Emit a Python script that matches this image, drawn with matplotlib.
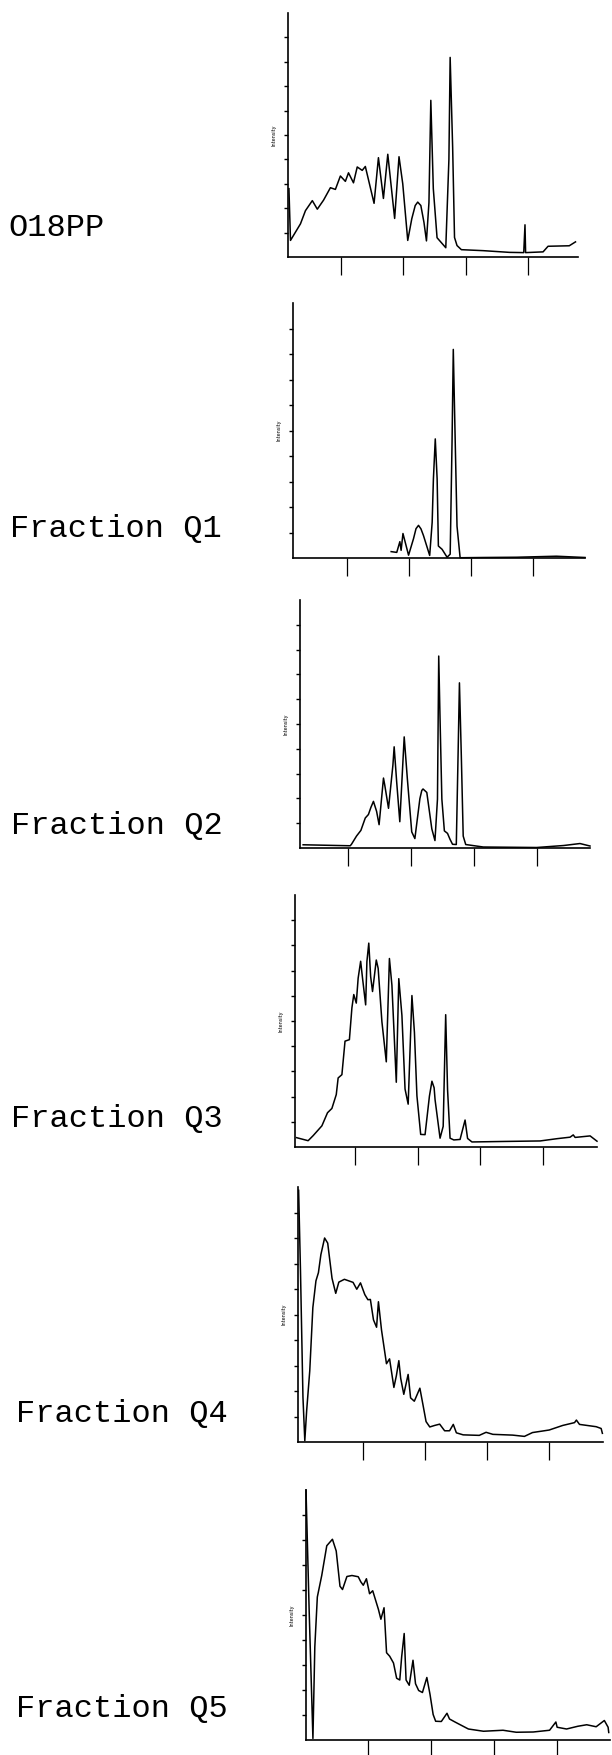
"""
Chromatogram overview: O18PP starting material and fractions Q1 to Q5.
"""

import matplotlib
matplotlib.use("Agg")
import matplotlib.pyplot as plt

FIG_W, FIG_H = 612, 1755

sample_names = ["O18PP", "Fraction Q1", "Fraction Q2",
                "Fraction Q3", "Fraction Q4", "Fraction Q5"]

# retention time (min) and detector signal (% of full scale)
o18pp_time = [6.65, 6.9, 8.5, 9.3, 10.4, 11.2, 12.2, 13.3, 14.1, 14.9, 15.7, 16.2,
              17.0, 17.6, 18.4, 18.9, 20.3, 21.0, 21.8, 22.5, 23.6, 24.3, 24.9,
              25.7, 26.35, 26.9, 27.3, 27.8, 28.3, 28.7, 29.1, 29.4, 29.8, 30.4,
              31.8, 32.3, 32.5, 32.9, 33.2, 33.6, 34.3, 37.8, 42.0, 44.3, 44.5,
              44.6, 47.4, 48.2, 51.6, 52.6]
o18pp_signal = [28.0, 6.8, 13.6, 19.0, 23.1, 19.6, 23.3, 28.4, 27.7, 33.2, 31.0, 34.5,
                30.4, 36.9, 35.5, 37.1, 22.0, 40.7, 24.0, 42.1, 15.8, 41.1, 30.0,
                6.8, 15.7, 21.1, 22.5, 21.1, 14.2, 6.6, 22.3, 64.2, 28.0, 7.9,
                3.8, 40.0, 81.8, 45.0, 8.0, 4.7, 3.0, 2.6, 1.9, 1.8, 13.2,
                1.8, 2.1, 4.4, 4.6, 6.2]

q1_time = [22.1, 23.0, 23.5, 23.7, 24.0, 24.9, 25.7, 26.1, 26.5, 26.9, 27.3, 28.3,
           28.7, 28.9, 29.2, 29.5, 29.7, 30.3, 31.1, 31.6, 31.9, 32.1, 32.4, 32.7,
           33.2, 37.0, 42.3, 48.7, 53.3]
q1_signal = [2.5, 2.2, 6.4, 3.0, 9.6, 1.1, 7.6, 11.5, 12.8, 11.4, 8.8, 1.0,
             14.0, 31.0, 46.7, 31.0, 4.7, 3.4, 0.3, 1.5, 45.5, 81.8, 46.8, 12.5,
             0.1, 0.2, 0.3, 0.7, 0.2]

q2_time = [7.8, 15.3, 15.5, 16.3, 17.0, 17.7, 18.2, 18.6, 19.0, 19.5, 19.9, 20.6,
           20.8, 21.4, 22.1, 22.3, 22.7, 23.2, 23.9, 24.4, 25.1, 25.6, 26.4, 26.7,
           26.9, 27.5, 28.3, 28.8, 29.2, 29.4, 29.6, 29.9, 30.3, 30.8, 31.2, 31.6,
           32.2, 32.5, 32.7, 33.0, 33.3, 33.7, 36.5, 45.0, 49.3, 51.9, 53.5]
q2_signal = [1.3, 0.9, 1.5, 4.8, 7.1, 12.1, 13.5, 16.4, 18.8, 14.8, 9.4, 28.2,
             25.4, 16.0, 33.4, 40.8, 26.7, 10.6, 44.8, 28.0, 6.5, 3.8, 19.9, 23.2,
             23.8, 22.4, 7.7, 3.0, 19.7, 77.4, 53.3, 19.7, 6.9, 5.9, 3.5, 1.5,
             1.4, 39.8, 66.6, 37.1, 4.8, 1.4, 0.4, 0.2, 1.0, 1.8, 0.8]

q3_time = [5.66, 7.5, 8.3, 9.7, 10.6, 11.3, 12.0, 12.3, 12.9, 13.4, 14.1, 14.5,
           14.8, 15.2, 15.5, 15.9, 16.2, 16.7, 16.9, 17.2, 17.5, 17.8, 18.4, 18.7,
           19.3, 20.0, 20.5, 20.9, 21.6, 22.0, 22.5, 23.0, 23.5, 24.1, 24.5, 24.9,
           25.5, 26.2, 26.9, 27.3, 27.65, 27.8, 28.6, 29.1, 29.5, 29.8, 30.2, 30.8,
           31.8, 32.6, 33.0, 33.7, 38.8, 44.6, 47.3, 49.4, 49.9, 50.2, 52.6, 53.7]
q3_signal = [3.7, 2.5, 4.5, 8.4, 13.6, 15.3, 20.8, 27.4, 28.7, 42.0, 42.6, 55.2,
             60.5, 57.1, 67.0, 73.7, 67.0, 56.4, 73.6, 80.9, 67.6, 61.7, 74.2, 70.9,
             49.7, 33.8, 74.8, 64.2, 25.7, 66.8, 52.2, 23.0, 17.0, 60.1, 45.5, 20.3,
             5.0, 4.9, 20.2, 26.1, 23.5, 18.8, 3.5, 8.2, 52.5, 22.7, 3.5, 2.8,
             3.0, 10.7, 3.4, 2.0, 2.2, 2.4, 3.3, 3.9, 4.8, 3.8, 4.4, 2.3]

q4_time = [4.6, 4.9, 5.3, 5.6, 5.9, 6.4, 6.9, 7.4, 7.8, 8.2, 8.8, 9.3, 10.0, 10.6,
           11.1, 12.0, 13.4, 14.0, 14.6, 15.3, 15.8, 16.2, 16.7, 17.2, 17.5, 18.0,
           18.8, 19.3, 20.0, 20.4, 20.8, 21.1, 21.6, 22.3, 22.7, 23.3, 24.2, 24.7,
           25.2, 25.8, 26.6, 27.4, 28.2, 29.0, 29.6, 30.1, 31.2, 33.8, 34.9, 36.0,
           39.2, 41.1, 42.4, 45.1, 47.3, 49.2, 49.5, 50.0, 52.7, 53.5, 53.7]
q4_signal = [98.7, 67.3, 17.6, 0.5, 12.3, 27.9, 52.7, 63.2, 66.4, 73.5, 80.0, 78.0,
             64.2, 58.3, 62.7, 63.8, 62.6, 59.9, 62.4, 57.8, 55.8, 55.9, 47.9, 45.0,
             55.0, 43.9, 30.7, 32.6, 21.4, 26.0, 31.9, 25.0, 18.7, 26.5, 17.3, 16.0,
             21.1, 14.6, 8.0, 5.9, 6.5, 7.0, 4.4, 4.4, 6.9, 3.6, 2.8, 2.6, 3.8, 3.0,
             2.7, 2.2, 3.7, 4.7, 6.5, 7.6, 8.6, 6.9, 6.0, 5.3, 3.4]

q5_time = [5.1, 5.6, 6.2, 6.5, 6.9, 7.6, 8.4, 9.3, 9.9, 10.5, 10.9, 11.6, 12.4,
           13.4, 13.8, 14.2, 14.7, 15.2, 15.7, 16.1, 16.6, 17.0, 17.5, 17.9, 18.4,
           19.0, 19.5, 20.0, 20.3, 20.7, 21.0, 21.5, 22.1, 22.5, 23.0, 23.6, 24.3,
           24.8, 25.3, 25.7, 26.6, 27.5, 27.9, 28.7, 29.3, 30.9, 33.3, 36.4, 38.5,
           41.2, 43.8, 44.8, 45.0, 46.5, 48.3, 49.7, 51.2, 52.5, 53.1, 53.2]
q5_signal = [100.0, 52.0, 0.6, 37.2, 57.2, 65.8, 77.7, 80.3, 75.6, 61.5, 60.2, 65.4,
             65.8, 65.3, 63.3, 61.9, 64.5, 58.5, 59.7, 56.4, 52.3, 48.3, 52.9, 34.9,
             33.5, 30.8, 24.7, 24.0, 33.3, 42.6, 24.0, 21.9, 31.9, 22.5, 19.8, 19.0,
             25.0, 18.3, 10.2, 7.5, 7.4, 10.7, 8.4, 7.3, 6.5, 4.4, 3.5, 3.9, 3.1,
             3.2, 3.9, 7.2, 5.1, 4.4, 5.5, 6.1, 5.3, 7.8, 5.1, 3.0]

traces = [
    (o18pp_time, o18pp_signal),
    (q1_time, q1_signal),
    (q2_time, q2_signal),
    (q3_time, q3_signal),
    (q4_time, q4_signal),
    (q5_time, q5_signal),
]

time_limits = [(6.5, 53.0), (6.3, 53.3), (7.3, 53.5), (5.4, 53.7), (4.5, 53.8), (5.1, 53.4)]
time_ticks = [15, 25, 35, 45]
signal_ticks = list(range(10, 100, 10))

# plot boxes in pixels: left, top, right, bottom
panel_boxes = [
    (288, 13, 578, 257),
    (293, 303, 585, 558),
    (300, 600, 590, 848),
    (295, 895, 597, 1147),
    (298, 1187, 603, 1442),
    (306, 1490, 610, 1740),
]

# sample label anchors in pixels: left x, centre y
label_anchors = [(8, 228), (10, 529), (11, 826), (11, 1119), (16, 1414), (16, 1709)]


fig = plt.figure(figsize=(FIG_W / 100, FIG_H / 100), dpi=100)
fig.patch.set_facecolor("white")

for (times, signal), box, xlim in zip(traces, panel_boxes, time_limits):
    left, top, right, bottom = box
    ax = fig.add_axes([
        left / FIG_W,
        1 - bottom / FIG_H,
        (right - left) / FIG_W,
        (bottom - top) / FIG_H,
    ])
    ax.plot(times, signal, color="black", linewidth=1.1, clip_on=False,
            solid_joinstyle="round")

    ax.set_xlim(*xlim)
    ax.set_ylim(0, 100)
    ax.set_xticks(time_ticks)
    ax.set_yticks(signal_ticks)
    ax.tick_params(axis="x", length=13, width=0.9, direction="out",
                   labelbottom=False, color="black")
    ax.tick_params(axis="y", length=3, width=1.0, direction="out",
                   labelleft=False, color="black")

    for side in ("top", "right"):
        ax.spines[side].set_visible(False)
    for side in ("left", "bottom"):
        ax.spines[side].set_linewidth(1.2)
        ax.spines[side].set_color("black")

    ax.set_ylabel("Intensity", fontsize=3.5, labelpad=5)
    ax.set_facecolor("none")

for name, (x, y) in zip(sample_names, label_anchors):
    fig.text(x / FIG_W, 1 - y / FIG_H, name, family="Liberation Mono",
             fontsize=23, va="center", ha="left", color="black")

fig.savefig("out.png", dpi=100, facecolor="white")
